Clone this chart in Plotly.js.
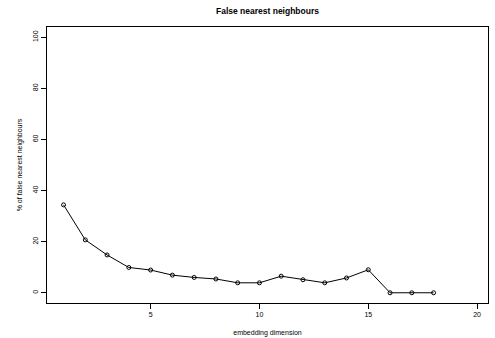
<!DOCTYPE html>
<html>
<head>
<meta charset="utf-8">
<script src="https://cdn.plot.ly/plotly-3.0.1.min.js"></script>
<style>html,body{margin:0;padding:0;background:#fff;}#chart{width:495px;height:338px;}</style>
</head>
<body>
<div id="chart"></div>
<script>
const dims = [1,2,3,4,5,6,7,8,9,10,11,12,13,14,15,16,17,18];
const fnnPercent = [34.4,20.7,14.8,9.9,8.9,6.9,6.0,5.4,3.9,3.9,6.5,5.1,3.9,5.8,9.0,0,0,0];
const xTicks = [5,10,15,20];
const yTicks = [0,20,40,60,80,100];

const font = {family: 'Liberation Sans, Arial, sans-serif', color: '#000'};

const trace = {
  x: dims, y: fnnPercent, type: 'scatter', mode: 'lines+markers',
  line: {color: '#000', width: 1},
  marker: {symbol: 'circle-open', size: 4, color: '#000', line: {width: 1, color: '#000'}},
  cliponaxis: false
};

const layout = {
  width: 495, height: 338,
  margin: {l: 47, r: 7, t: 27, b: 35},
  paper_bgcolor: '#fff', plot_bgcolor: '#fff',
  showlegend: false,
  font: Object.assign({size: 7}, font),
  title: {text: '<b>False nearest neighbours</b>', font: Object.assign({size: 8.5}, font),
          x: 0.5, xref: 'paper', y: 1 - 11/338, yref: 'container', yanchor: 'middle'},
  xaxis: {
    range: [0.24, 20.5], tickvals: xTicks, ticktext: xTicks.map(String),
    showgrid: false, zeroline: false, showline: true, mirror: true, linecolor: '#000', linewidth: 1,
    ticks: 'outside', ticklen: 5, tickwidth: 1, tickcolor: '#000',
    tickfont: Object.assign({size: 7}, font),
    title: {text: 'embedding dimension', font: Object.assign({size: 7}, font), standoff: 12}
  },
  yaxis: {
    range: [-4, 104], tickvals: yTicks, ticktext: yTicks.map(String), tickangle: -90,
    showgrid: false, zeroline: false, showline: true, mirror: true, linecolor: '#000', linewidth: 1,
    ticks: 'outside', ticklen: 5, tickwidth: 1, tickcolor: '#000',
    tickfont: Object.assign({size: 7}, font),
    title: {text: '% of false nearest neighbours', font: Object.assign({size: 7}, font), standoff: 8}
  }
};

Plotly.newPlot('chart', [trace], layout, {staticPlot: true, displayModeBar: false});
</script>
</body>
</html>
